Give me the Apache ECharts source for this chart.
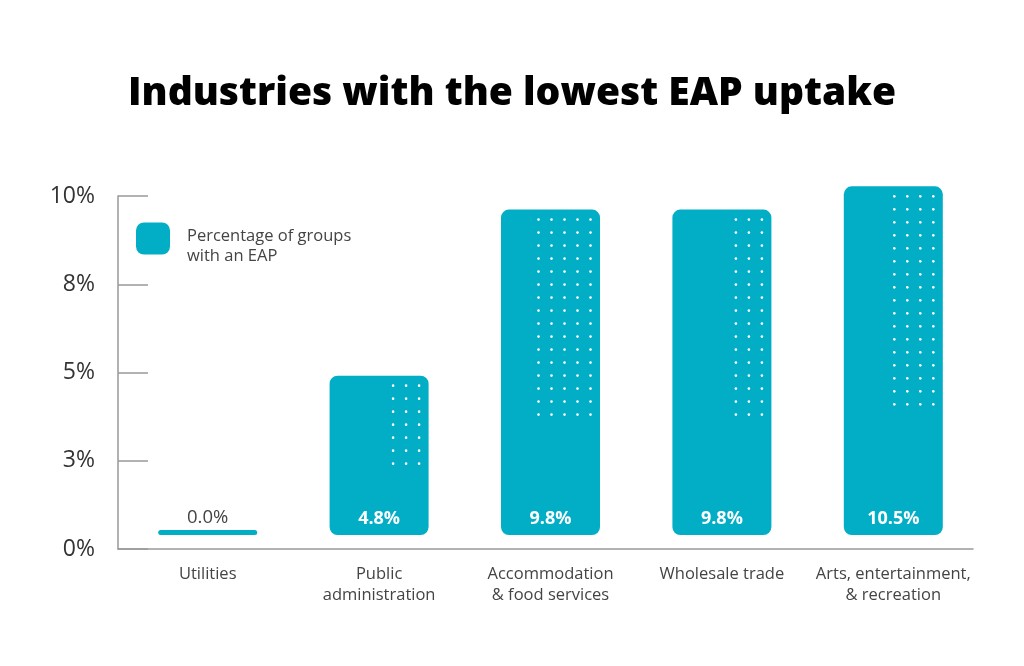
<!DOCTYPE html>
<html>
<head>
<meta charset="utf-8">
<script src="https://cdn.jsdelivr.net/npm/echarts@6/dist/echarts.min.js"></script>
<style>
html,body{margin:0;padding:0;background:#fff;}
#chart{width:1024px;height:666px;}
</style>
</head>
<body>
<div id="chart"></div>
<script>
// ---- data ----
const categories = ['Utilities', 'Public\nadministration', 'Accommodation\n& food services', 'Wholesale trade', 'Arts, entertainment,\n& recreation'];
const values = [0.0, 4.8, 9.8, 9.8, 10.5];
const seriesName = 'Percentage of groups with an EAP';
const yTicks = [0, 2.5, 5, 7.5, 10];
// decorative dot pattern (columns, rows) per bar
const dotCols = [0, 3, 5, 3, 4];
const dotRows = [0, 7, 16, 16, 17];

const color = '#02adc6';
const font = 'Open Sans';

const chart = echarts.init(document.getElementById('chart'));

const barData = values.map((v, i) => {
  if (v === 0) {
    return {
      value: v,
      itemStyle: { borderRadius: 3 },
      label: { position: 'top', color: '#444', fontWeight: 'normal', fontSize: 18.5, distance: 3 }
    };
  }
  return v;
});

chart.setOption({
  backgroundColor: '#fff',
  title: {
    text: 'Industries with the lowest EAP uptake',
    left: 'center',
    top: 69,
    textStyle: { fontFamily: font, fontWeight: 800, fontSize: 39, color: '#000' }
  },
  legend: {
    left: 131,
    top: 213,
    orient: 'vertical',
    icon: 'roundRect',
    itemWidth: 34,
    itemHeight: 32,
    formatter: () => '{s| }\n{a|Percentage of groups}\n{a|with an EAP}',
    textStyle: {
      fontFamily: font, fontSize: 16.5, color: '#444', padding: [0, 0, 0, 12],
      rich: {
        s: { fontSize: 1, lineHeight: 16 },
        a: { fontFamily: font, fontSize: 16.5, color: '#444', lineHeight: 20 }
      }
    },
    data: [seriesName]
  },
  grid: [
    { left: 118, right: 51, top: 196, bottom: 117, containLabel: false },
    { left: 122, right: 45, top: 196, bottom: 117, containLabel: false }
  ],
  xAxis: [{
    type: 'category',
    gridIndex: 0,
    data: categories,
    axisLine: { lineStyle: { color: '#999', width: 1.5 } },
    axisTick: { show: false },
    axisLabel: { show: false }
  }, {
    type: 'category',
    gridIndex: 1,
    data: categories,
    axisLine: { show: false },
    axisTick: { show: false },
    axisLabel: { fontFamily: font, fontSize: 16.5, color: '#444', margin: 15, lineHeight: 21, interval: 0 }
  }],
  yAxis: [{
    type: 'value',
    gridIndex: 0,
    min: yTicks[0],
    max: yTicks[yTicks.length - 1],
    interval: yTicks[1] - yTicks[0],
    axisLine: { show: true, lineStyle: { color: '#999', width: 1.5 } },
    axisTick: { show: true, inside: true, length: 30, lineStyle: { color: '#999', width: 1.5 } },
    splitLine: { show: false },
    axisLabel: {
      fontFamily: font, fontSize: 23, color: '#333', margin: 23,
      formatter: v => Math.round(v) + '%'
    }
  }, {
    type: 'value',
    gridIndex: 1,
    show: false,
    min: -0.42,
    max: 10.21,
    splitLine: { show: false }
  }],
  series: [{
    name: seriesName,
    type: 'bar',
    xAxisIndex: 1,
    yAxisIndex: 1,
    data: barData,
    barWidth: 99,
    barMinHeight: 5,
    clip: false,
    itemStyle: { color: color, borderRadius: 8 },
    label: {
      show: true,
      position: 'insideBottom',
      distance: 7,
      fontFamily: font,
      fontSize: 18,
      fontWeight: 'bold',
      color: '#fff',
      formatter: p => p.value.toFixed(1) + '%'
    },
    z: 2
  }, {
    type: 'custom',
    xAxisIndex: 1,
    yAxisIndex: 1,
    data: values.map((v, i) => [i, v]),
    clip: false,
    silent: true,
    z: 3,
    renderItem: function (params, api) {
      const i = api.value(0);
      const top = api.coord([i, api.value(1)]);
      const bw = 99;
      const right = top[0] + bw / 2 - 9.5;
      const children = [];
      const cols = dotCols[i], rows = dotRows[i];
      for (let c = 0; c < cols; c++) {
        for (let r = 0; r < rows; r++) {
          children.push({
            type: 'circle',
            shape: { cx: right - (cols - 1 - c) * 13, cy: top[1] + 10 + r * 13, r: 1.3 },
            style: { fill: '#ffffff' }
          });
        }
      }
      return { type: 'group', children: children };
    }
  }]
});
</script>
</body>
</html>
